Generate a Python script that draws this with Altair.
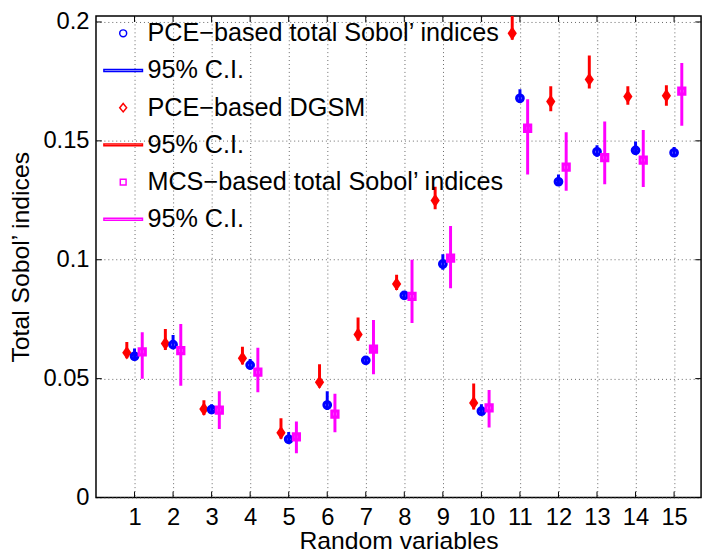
import altair as alt
import pandas as pd

# ---------------- data ----------------
variables = list(range(1, 16))

pce_sobol    = [0.0594, 0.0643, 0.0370, 0.0557, 0.0245, 0.0389, 0.0577, 0.0850, 0.0982, 0.0363, 0.1679, 0.1328, 0.1454, 0.1460, 0.1450]
pce_sobol_lo = [0.0579, 0.0624, 0.0351, 0.0538, 0.0228, 0.0368, 0.0559, 0.0832, 0.0958, 0.0347, 0.1659, 0.1310, 0.1433, 0.1440, 0.1433]
pce_sobol_hi = [0.0627, 0.0684, 0.0392, 0.0583, 0.0276, 0.0447, 0.0593, 0.0866, 0.1023, 0.0392, 0.1717, 0.1358, 0.1481, 0.1497, 0.1474]

dgsm    = [0.0609, 0.0648, 0.0372, 0.0586, 0.0272, 0.0485, 0.0686, 0.0898, 0.1249, 0.0398, 0.1952, 0.1665, 0.1758, 0.1686, 0.1690]
dgsm_lo = [0.0586, 0.0620, 0.0347, 0.0559, 0.0247, 0.0463, 0.0659, 0.0873, 0.1212, 0.0370, 0.1925, 0.1624, 0.1720, 0.1652, 0.1648]
dgsm_hi = [0.0654, 0.0709, 0.0409, 0.0634, 0.0333, 0.0561, 0.0757, 0.0937, 0.1307, 0.0480, 0.2060, 0.1730, 0.1859, 0.1730, 0.1734]

mcs    = [0.0613, 0.0618, 0.0368, 0.0527, 0.0255, 0.0351, 0.0624, 0.0846, 0.1007, 0.0377, 0.1553, 0.1389, 0.1429, 0.1419, 0.1709]
mcs_lo = [0.0500, 0.0470, 0.0288, 0.0443, 0.0186, 0.0275, 0.0518, 0.0734, 0.0880, 0.0295, 0.1358, 0.1290, 0.1317, 0.1306, 0.1563]
mcs_hi = [0.0695, 0.0730, 0.0447, 0.0630, 0.0320, 0.0436, 0.0747, 0.1000, 0.1142, 0.0452, 0.1675, 0.1536, 0.1581, 0.1546, 0.1827]

y_ticks = [0, 0.05, 0.1, 0.15, 0.2]

legend_entries = [
    "PCE\u2212based total Sobol\u2019 indices", "95% C.I.",
    "PCE\u2212based DGSM", "95% C.I.",
    "MCS\u2212based total Sobol\u2019 indices", "95% C.I.",
]
legend_colors = ["#0000ff", "#0000ff", "#ff0000", "#ff0000", "#ff00ff", "#ff00ff"]

# ---------------- styling ----------------
FONT = "Liberation Sans"
X_DOM = [0, 15.7]
Y_DOM = [0, 0.20249]
xs = alt.Scale(domain=X_DOM, nice=False, zero=False)
ys = alt.Scale(domain=Y_DOM, nice=False, zero=False)
X_TITLE = "Random variables"
Y_TITLE = "Total Sobol\u2019 indices"
x_axis = alt.Axis(values=variables, labelFontSize=24, labelPadding=8, titlePadding=0,
                  title=X_TITLE)
y_axis = alt.Axis(values=y_ticks, format="~g", labelFontSize=24, labelPadding=7, titlePadding=10,
                  title=Y_TITLE)


def X(field):
    return alt.X(field, type="quantitative", scale=xs, axis=x_axis, title=X_TITLE)


def Y(field):
    return alt.Y(field, type="quantitative", scale=ys, axis=y_axis, title=Y_TITLE)


rows = []
for name, vals, lo, hi in [("blue", pce_sobol, pce_sobol_lo, pce_sobol_hi),
                           ("red", dgsm, dgsm_lo, dgsm_hi),
                           ("magenta", mcs, mcs_lo, mcs_hi)]:
    for v, m, l, h in zip(variables, vals, lo, hi):
        rows.append({"series": name, "var": v, "val": m, "lo": l, "hi": h})
df = pd.DataFrame(rows)

base = alt.Chart(df)

diamond_path = "M0,-1L0.68,0L0,1L-0.68,0Z"
point_mark_kwargs = {
    "red": dict(shape=diamond_path, filled=True, size=190, color="#ff0000", opacity=1, clip=True),
    "blue": dict(shape="circle", filled=False, strokeWidth=3.2, size=44, color="#0000ff", opacity=1, clip=True),
    "magenta": dict(shape="square", filled=False, strokeWidth=3.2, size=38, color="#ff00ff", opacity=1, clip=True),
}

layers = []
for name, color, off in [("red", "#ff0000", -0.2), ("blue", "#0000ff", 0.0), ("magenta", "#ff00ff", 0.2)]:
    d = base.transform_filter(alt.datum.series == name).transform_calculate(
        xp=f"datum.var + ({off})")
    layers.append(d.mark_rule(color=color, strokeWidth=3, clip=True).encode(
        x=X("xp"), y=Y("lo"), y2="hi"))
    layers.append(d.mark_point(**point_mark_kwargs[name]).encode(x=X("xp"), y=Y("val")))

# inward tick marks (MATLAB box style), driven by the scales
xt = pd.DataFrame({"t": variables})
yt = pd.DataFrame({"t": y_ticks})
tick_x_len = 0.0025
tick_y_len = 0.15
ticks = [
    alt.Chart(xt).mark_rule(color="black", strokeWidth=1).encode(
        x=X("t"), y=Y("a:Q"), y2="b:Q"
    ).transform_calculate(a=f"{Y_DOM[0]}", b=f"{Y_DOM[0] + tick_x_len}"),
    alt.Chart(xt).mark_rule(color="black", strokeWidth=1).encode(
        x=X("t"), y=Y("a:Q"), y2="b:Q"
    ).transform_calculate(a=f"{Y_DOM[1] - tick_x_len}", b=f"{Y_DOM[1]}"),
    alt.Chart(yt).mark_rule(color="black", strokeWidth=1).encode(
        y=Y("t"), x=X("a:Q"), x2="b:Q"
    ).transform_calculate(a=f"{X_DOM[0]}", b=f"{X_DOM[0] + tick_y_len}"),
    alt.Chart(yt).mark_rule(color="black", strokeWidth=1).encode(
        y=Y("t"), x=X("a:Q"), x2="b:Q"
    ).transform_calculate(a=f"{X_DOM[1] - tick_y_len}", b=f"{X_DOM[1]}"),
]

# legend (invisible layer carrying only the legend)
keys = [str(i) for i in range(len(legend_entries))]
leg_df = pd.DataFrame({"key": keys})
label_expr = "[" + ",".join("'" + t + "'" for t in legend_entries) + "][toNumber(datum.label)]"
line_path = "M-1,-0.05H1V0.05H-1Z"
circ = "M0.18,0A0.18,0.18,0,1,1,-0.18,0A0.18,0.18,0,1,1,0.18,0Z"
diam = "M0,-0.22L0.18,0L0,0.22L-0.18,0Z"
sq = "M-0.15,-0.15H0.15V0.15H-0.15Z"
legend_shapes = [circ, line_path, diam, line_path, sq, line_path]

leg = alt.Legend(title=None, orient="none", legendX=7, legendY=-3, padding=0,
                 labelFont=FONT, labelFontSize=25.5, labelColor="black", labelExpr=label_expr,
                 labelLimit=0, labelOffset=4, symbolSize=1521, symbolStrokeWidth=1.5,
                 rowPadding=3.6)
legend_layer = alt.Chart(leg_df).mark_point(filled=False, opacity=0, strokeWidth=1.5).encode(
    color=alt.Color("key:N", scale=alt.Scale(domain=keys, range=legend_colors), legend=leg),
    shape=alt.Shape("key:N", scale=alt.Scale(domain=keys, range=legend_shapes), legend=leg),
)

chart = alt.layer(*ticks, *layers, legend_layer).properties(
    width=612, height=487,
    autosize=alt.AutoSizeParams(type="none"),
    padding={"left": 89, "top": 5, "right": 6, "bottom": 55},
).configure_view(
    stroke="black", strokeWidth=1.5
).configure_axis(
    labelFont=FONT, titleFont=FONT, labelColor="black", titleColor="black",
    titleFontWeight="normal", titleFontSize=25, labelFontSize=24,
    grid=True, gridColor="#666", gridDash=[1, 3], gridWidth=1, gridOpacity=1,
    domain=False, ticks=False,
)

chart.save("out.html", embed_options={"renderer": "svg", "actions": False})
